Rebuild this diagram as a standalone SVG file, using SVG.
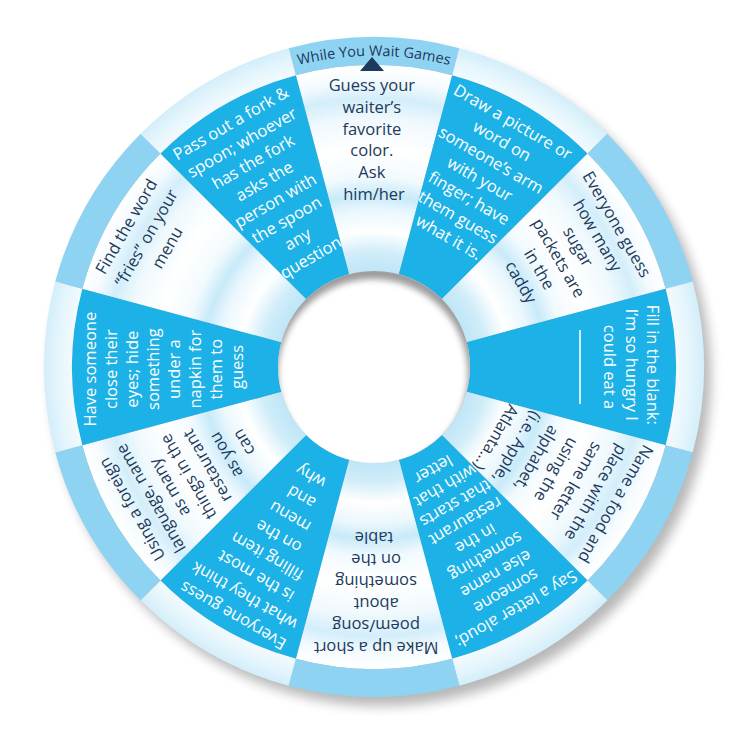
<svg xmlns="http://www.w3.org/2000/svg" xmlns:xlink="http://www.w3.org/1999/xlink" width="750" height="750" viewBox="0 0 750 750">
  <style>
    .txt { font-family: "Open Sans", "Liberation Sans", sans-serif; font-size: 16.5px; text-anchor: middle; }
    .dark { fill: #1d3a5a; font-weight: 500; }
    .light { fill: #ffffff; }
    .blue { fill: #1cb1e7; }
    .white { fill: url(#wg); }
    .rimblue { fill: #8fd3f2; }
    .rimwhite { fill: url(#rg); }
  </style>
  <defs>
    <radialGradient id="wg" gradientUnits="userSpaceOnUse" cx="374" cy="367" r="302">
      <stop offset="0" stop-color="#bfe6f7"/>
      <stop offset="0.32" stop-color="#bfe6f7"/>
      <stop offset="0.38" stop-color="#d0edf9"/>
      <stop offset="0.45" stop-color="#ffffff"/>
      <stop offset="0.52" stop-color="#eaf7fd"/>
      <stop offset="0.57" stop-color="#c8eaf9"/>
      <stop offset="0.63" stop-color="#f2fafe"/>
      <stop offset="0.72" stop-color="#ffffff"/>
      <stop offset="0.82" stop-color="#f0f9fd"/>
      <stop offset="0.89" stop-color="#d3eefa"/>
      <stop offset="0.95" stop-color="#f5fbfe"/>
      <stop offset="1" stop-color="#ffffff"/>
    </radialGradient>
    <radialGradient id="rg" gradientUnits="userSpaceOnUse" cx="374" cy="367" r="330">
      <stop offset="0.91" stop-color="#f4fbfe"/>
      <stop offset="0.96" stop-color="#e4f5fc"/>
      <stop offset="1" stop-color="#d3eefa"/>
    </radialGradient>
    <filter id="blur6" x="-20%" y="-20%" width="140%" height="140%">
      <feGaussianBlur stdDeviation="6"/>
    </filter>
    <filter id="blur3" x="-20%" y="-20%" width="140%" height="140%">
      <feGaussianBlur stdDeviation="3"/>
    </filter>
    <clipPath id="holeclip">
      <circle cx="374" cy="367" r="96"/>
    </clipPath>
    <path id="sec" d="M295.84,75.29 A302,302 0 0 1 452.16,75.29 L398.85,274.27 A96,96 0 0 0 349.15,274.27 Z"/>
    <path id="rim" d="M288.59,48.25 A330,330 0 0 1 459.41,48.25 L452.16,75.29 A302,302 0 0 0 295.84,75.29 Z"/>
    <path id="tabarc" d="M218,97.8 A311,311 0 0 1 530,97.8"/>
  </defs>

  <!-- drop shadow -->
  <circle cx="381" cy="376" r="330" fill="#000" opacity="0.28" filter="url(#blur6)"/>

  <g id="seg-waiter">
    <use xlink:href="#sec" class="white"/>
    <use xlink:href="#rim" class="rimblue"/>
    <text class="txt dark">
      <tspan x="374" y="91">Guess your</tspan>
      <tspan x="374" y="112.8">waiter’s</tspan>
      <tspan x="374" y="134.6">favorite</tspan>
      <tspan x="374" y="156.4">color.</tspan>
      <tspan x="374" y="178.2">Ask</tspan>
      <tspan x="374" y="200">him/her</tspan>
    </text>
  </g>

  <g id="seg-draw" transform="rotate(30 374 367)">
    <use xlink:href="#sec" class="blue"/>
    <use xlink:href="#rim" class="rimwhite"/>
    <text class="txt light">
      <tspan x="374" y="91">Draw a picture or</tspan>
      <tspan x="374" y="113">word on</tspan>
      <tspan x="374" y="135">someone’s arm</tspan>
      <tspan x="374" y="157">with your</tspan>
      <tspan x="374" y="179">finger; have</tspan>
      <tspan x="374" y="201">them guess</tspan>
      <tspan x="374" y="223">what it is.</tspan>
    </text>
  </g>

  <g id="seg-sugar" transform="rotate(60 374 367)">
    <use xlink:href="#sec" class="white"/>
    <use xlink:href="#rim" class="rimblue"/>
    <text class="txt dark">
      <tspan x="374" y="91">Everyone guess</tspan>
      <tspan x="374" y="113.4">how many</tspan>
      <tspan x="374" y="135.8">sugar</tspan>
      <tspan x="374" y="158.2">packets are</tspan>
      <tspan x="374" y="180.6">in the</tspan>
      <tspan x="374" y="203">caddy</tspan>
    </text>
  </g>

  <g id="seg-blank" transform="rotate(90 374 367)">
    <use xlink:href="#sec" class="blue"/>
    <use xlink:href="#rim" class="rimwhite"/>
    <text class="txt light">
      <tspan x="374" y="94">Fill in the blank:</tspan>
      <tspan x="374" y="115.5">I’m so hungry I</tspan>
      <tspan x="374" y="137">could eat a</tspan>
    </text>
    <line x1="337" y1="161" x2="411" y2="161" stroke="#ffffff" stroke-width="1.6"/>
  </g>

  <g id="seg-food" transform="rotate(120 374 367)">
    <use xlink:href="#sec" class="white"/>
    <use xlink:href="#rim" class="rimblue"/>
    <text class="txt dark">
      <tspan x="374" y="95">Name a food and</tspan>
      <tspan x="374" y="117.8">place with the</tspan>
      <tspan x="374" y="140.6">same letter</tspan>
      <tspan x="374" y="163.4">using the</tspan>
      <tspan x="374" y="186.2">alphabet,</tspan>
      <tspan x="374" y="209">(i.e. Apple,</tspan>
      <tspan x="374" y="231.8">Atlanta...)</tspan>
    </text>
  </g>

  <g id="seg-letter" transform="rotate(150 374 367)">
    <use xlink:href="#sec" class="blue"/>
    <use xlink:href="#rim" class="rimwhite"/>
    <text class="txt light">
      <tspan x="374" y="92">Say a letter aloud;</tspan>
      <tspan x="374" y="112.3">someone</tspan>
      <tspan x="374" y="132.6">else name</tspan>
      <tspan x="374" y="152.9">something</tspan>
      <tspan x="374" y="173.2">in the</tspan>
      <tspan x="374" y="193.5">restaurant</tspan>
      <tspan x="374" y="213.8">that starts</tspan>
      <tspan x="374" y="234.1">with that</tspan>
      <tspan x="374" y="254.4">letter</tspan>
    </text>
  </g>

  <g id="seg-poem" transform="rotate(180 374 367)">
    <use xlink:href="#sec" class="white"/>
    <use xlink:href="#rim" class="rimblue"/>
    <text class="txt dark">
      <tspan x="374" y="92">Make up a short</tspan>
      <tspan x="374" y="114">poem/song</tspan>
      <tspan x="374" y="136">about</tspan>
      <tspan x="374" y="158">something</tspan>
      <tspan x="374" y="180">on the</tspan>
      <tspan x="374" y="202">table</tspan>
    </text>
  </g>

  <g id="seg-filling" transform="rotate(210 374 367)">
    <use xlink:href="#sec" class="blue"/>
    <use xlink:href="#rim" class="rimwhite"/>
    <text class="txt light">
      <tspan x="374" y="87">Everyone guess</tspan>
      <tspan x="374" y="109.8">what they think</tspan>
      <tspan x="374" y="132.6">is the most</tspan>
      <tspan x="374" y="155.4">filling item</tspan>
      <tspan x="374" y="178.2">on the</tspan>
      <tspan x="374" y="201">menu</tspan>
      <tspan x="374" y="223.8">and</tspan>
      <tspan x="374" y="246.6">why</tspan>
    </text>
  </g>

  <g id="seg-foreign" transform="rotate(240 374 367)">
    <use xlink:href="#sec" class="white"/>
    <use xlink:href="#rim" class="rimblue"/>
    <text class="txt dark">
      <tspan x="374" y="92">Using a foreign</tspan>
      <tspan x="374" y="113.7">language, name</tspan>
      <tspan x="374" y="135.4">as many</tspan>
      <tspan x="374" y="157.1">things in the</tspan>
      <tspan x="374" y="178.8">restaurant</tspan>
      <tspan x="374" y="200.5">as you</tspan>
      <tspan x="374" y="222.2">can</tspan>
    </text>
  </g>

  <g id="seg-napkin" transform="rotate(270 374 367)">
    <use xlink:href="#sec" class="blue"/>
    <use xlink:href="#rim" class="rimwhite"/>
    <text class="txt light">
      <tspan x="374" y="89">Have someone</tspan>
      <tspan x="374" y="110">close their</tspan>
      <tspan x="374" y="131">eyes; hide</tspan>
      <tspan x="374" y="152">something</tspan>
      <tspan x="374" y="173">under a</tspan>
      <tspan x="374" y="194">napkin for</tspan>
      <tspan x="374" y="215">them to</tspan>
      <tspan x="374" y="236">guess</tspan>
    </text>
  </g>

  <g id="seg-fries" transform="rotate(300 374 367)">
    <use xlink:href="#sec" class="white"/>
    <use xlink:href="#rim" class="rimblue"/>
    <text class="txt dark">
      <tspan x="374" y="88">Find the word</tspan>
      <tspan x="374" y="111">“fries” on your</tspan>
      <tspan x="374" y="134">menu</tspan>
    </text>
  </g>

  <g id="seg-fork" transform="rotate(330 374 367)">
    <use xlink:href="#sec" class="blue"/>
    <use xlink:href="#rim" class="rimwhite"/>
    <text class="txt light">
      <tspan x="374" y="90">Pass out a fork &amp;</tspan>
      <tspan x="374" y="112.3">spoon; whoever</tspan>
      <tspan x="374" y="134.6">has the fork</tspan>
      <tspan x="374" y="156.9">asks the</tspan>
      <tspan x="374" y="179.2">person with</tspan>
      <tspan x="374" y="201.5">the spoon</tspan>
      <tspan x="374" y="223.8">any</tspan>
      <tspan x="374" y="246.1">question</tspan>
    </text>
  </g>

  <g id="hole">
    <circle cx="374" cy="367" r="96" fill="#ffffff"/>
    <g clip-path="url(#holeclip)">
      <circle cx="373" cy="374" r="102" fill="none" stroke="#7a7a7a" stroke-width="14" opacity="0.75" filter="url(#blur3)"/>
    </g>
  </g>

  <g id="title">
    <text fill="#1d3a5a" font-family="Open Sans, Liberation Sans, sans-serif" font-size="14.5" font-weight="500" text-anchor="middle">
      <textPath xlink:href="#tabarc" startOffset="50%">While You Wait Games</textPath>
    </text>
    <polygon points="372,57 360,71 384,71" fill="#1d3a5a"/>
  </g>
</svg>
